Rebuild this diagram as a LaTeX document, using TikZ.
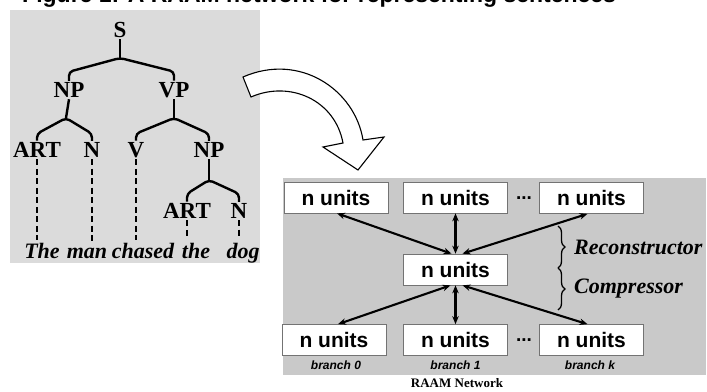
\documentclass[tikz,border=0pt]{standalone}
\usepackage{fontspec}
\setmainfont{Liberation Serif}
\setsansfont{Liberation Sans}
\usetikzlibrary{arrows.meta,decorations.pathreplacing}
\tikzset{
  treelabel/.style={font=\fontsize{23}{23}\selectfont\bfseries, inner sep=1.5pt},
  leafword/.style={font=\fontsize{22}{22}\selectfont\bfseries\itshape, inner sep=0pt, anchor=base},
  treeline/.style={line width=2.4pt, rounded corners=4pt},
  leafdash/.style={line width=1.6pt, dash pattern=on 6pt off 3.5pt},
  unitbox/.style={draw=black!55, line width=0.7pt, fill=white, minimum width=104pt, minimum height=31pt, inner sep=0pt, font=\sffamily\bfseries\fontsize{21}{21}\selectfont},
  netlink/.style={line width=2.1pt, {Stealth[length=8pt,width=6.5pt]}-{Stealth[length=8pt,width=6.5pt]}},
  dotsstyle/.style={font=\sffamily\bfseries\fontsize{19}{19}\selectfont, inner sep=0pt},
  branchlabel/.style={font=\sffamily\bfseries\itshape\fontsize{12}{12}\selectfont, inner sep=0pt},
  rolelabel/.style={font=\fontsize{22}{22}\selectfont\bfseries\itshape, anchor=west, inner sep=0pt},
  bracestyle/.style={decorate, decoration={brace, amplitude=7pt}, line width=1.3pt},
}
\begin{document}
\begin{tikzpicture}[x=1pt,y=-1pt]
\useasboundingbox (0,0) rectangle (707,391);
\fill[white] (0,0) rectangle (707,391);
% title, cut off at the top edge: only its lowest pixels show
\begin{scope}
\clip (0,0) rectangle (707,8);
\node[anchor=south west, inner sep=0pt, font=\sffamily\bfseries\fontsize{23}{23}\selectfont] (title) at (22,7.5) {Figure 1: A RAAM network for representing sentences};
\end{scope}
% panels
\fill[black!14] (10,10) rectangle (260,263);
\fill[black!21] (283,178) rectangle (706,375);

% ---------- parse tree ----------
\node[treelabel] (S) at (120,30) {S};
\node[treelabel] (NP) at (69,90) {NP};
\node[treelabel] (VP) at (174,90) {VP};
\node[treelabel] (ART) at (37,150) {ART};
\node[treelabel] (N) at (92,150) {N};
\node[treelabel] (V) at (136,150) {V};
\node[treelabel] (NPb) at (209,150) {NP};
\node[treelabel] (ARTb) at (187,211) {ART};
\node[treelabel] (Nb) at (239,211) {N};

\coordinate (jS) at (120,58);
\coordinate (jNP) at (66,118);
\coordinate (jVP) at (174,118);
\coordinate (jNPb) at (209,180);

\draw[treeline] (S.south) -- (jS);
\draw[treeline] (NP.north) -- ([yshift=9pt]NP.north) -- (jS) -- ([yshift=9pt]VP.north) -- (VP.north);
\draw[treeline] (NP.south) -- (jNP);
\draw[treeline] (ART.north) -- ([yshift=7pt]ART.north) -- (jNP) -- ([yshift=7pt]N.north) -- (N.north);
\draw[treeline] (VP.south) -- (jVP);
\draw[treeline] (V.north) -- ([yshift=7pt]V.north) -- (jVP) -- ([yshift=7pt]NPb.north) -- (NPb.north);
\draw[treeline] (NPb.south) -- (jNPb);
\draw[treeline] (ARTb.north) -- ([yshift=8pt]ARTb.north) -- (jNPb) -- ([yshift=8pt]Nb.north) -- (Nb.north);

\node[leafword] (w1) at (42,258) {The};
\node[leafword] (w2) at (87,258) {man};
\node[leafword] (w3) at (143,258) {chased};
\node[leafword] (w4) at (196,258) {the};
\node[leafword] (w5) at (243,258) {dog};

\draw[leafdash] (ART.south) -- ([yshift=3pt]ART.south |- w1.north);
\draw[leafdash] (N.south) -- ([yshift=3pt]N.south |- w2.north);
\draw[leafdash] (V.south) -- ([yshift=3pt]V.south |- w3.north);
\draw[leafdash] (ARTb.south) -- ([yshift=4pt]ARTb.south |- w4.north);
\draw[leafdash] (Nb.south) -- ([yshift=4pt]Nb.south |- w5.north);

% ---------- hollow curved arrow ----------
\draw[line width=1.1pt, fill=white, line join=miter]
  (243,77) .. controls (300,52) and (355,90) .. (363,140)
  -- (384,137) -- (358,170) -- (323,147) -- (343,143)
  .. controls (335,100) and (290,80) .. (251,97) -- cycle;

% ---------- RAAM network ----------
\node[unitbox] (T1) at (336,197.5) {n units};
\node[unitbox] (T2) at (455.5,197.5) {n units};
\node[unitbox] (T3) at (591.5,198) {n units};
\node[unitbox] (M) at (455.5,269.5) {n units};
\node[unitbox] (B1) at (334,340) {n units};
\node[unitbox] (B2) at (455.5,340) {n units};
\node[unitbox] (B3) at (591.5,340) {n units};
\node[dotsstyle] (D1) at (524,198) {...};
\node[dotsstyle] (D2) at (524,340) {...};

\draw[netlink] ([xshift=1pt]T1.south) -- ([xshift=-4pt]M.north);
\draw[netlink] (T2.south) -- (M.north);
\draw[netlink] ([xshift=-4pt]T3.south) -- ([xshift=7pt]M.north);
\draw[netlink] ([xshift=-5pt]M.south) -- ([xshift=4pt]B1.north);
\draw[netlink] (M.south) -- (B2.north);
\draw[netlink] ([xshift=7pt]M.south) -- ([xshift=-4pt]B3.north);

\coordinate (br1) at (558,226);
\coordinate (br2) at (558,268);
\coordinate (br3) at (558,310);
\draw[bracestyle] (br1) -- (br2);
\draw[bracestyle] (br2) -- (br3);
\node[rolelabel] (rec) at (574,247) {Reconstructor};
\node[rolelabel] (comp) at (574,289) {Compressor};

\node[branchlabel] (b0) at (336,365) {branch 0};
\node[branchlabel] (b1) at (455.5,365) {branch 1};
\node[branchlabel] (bk) at (590,365) {branch k};
\node[font=\fontsize{13}{13}\selectfont\bfseries, inner sep=0pt] (raam) at (457,383) {RAAM Network};
\end{tikzpicture}
\end{document}
